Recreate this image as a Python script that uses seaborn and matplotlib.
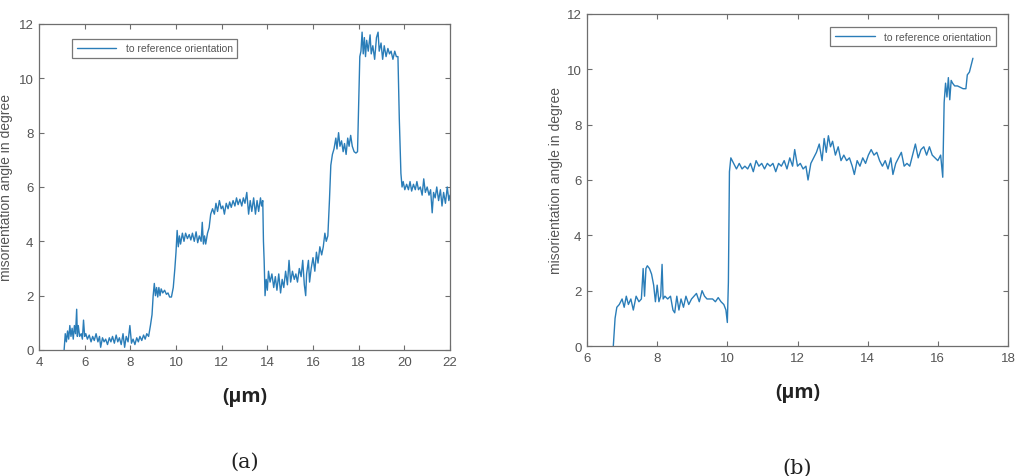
import matplotlib
matplotlib.use("Agg")
import matplotlib.pyplot as plt
import seaborn as sns
import pandas as pd

# ---------------- data ----------------
series_label = "to reference orientation"
x_label = "(μm)"
y_label = "misorientation angle in degree"
panel_a_xticks = [4, 6, 8, 10, 12, 14, 16, 18, 20, 22]
panel_b_xticks = [6, 8, 10, 12, 14, 16, 18]
y_ticks = [0, 2, 4, 6, 8, 10, 12]

a_x = [5.10, 5.15, 5.20, 5.25, 5.30, 5.35, 5.40, 5.45, 5.50, 5.55, 5.60, 5.65, 5.68, 5.72, 5.78,
       5.85, 5.90, 5.95, 6.00, 6.05, 6.12, 6.20, 6.28, 6.35, 6.42, 6.50, 6.58, 6.65, 6.70, 6.78,
       6.85, 6.92, 7.00, 7.08, 7.15, 7.22, 7.30, 7.38, 7.45, 7.52, 7.60, 7.68, 7.75, 7.82, 7.90,
       7.98, 8.05, 8.12, 8.20, 8.28, 8.35, 8.42, 8.50, 8.58, 8.65, 8.72, 8.80, 8.88, 8.95, 9.00,
       9.05, 9.10, 9.15, 9.20, 9.25, 9.30, 9.35, 9.42, 9.50, 9.58, 9.65, 9.72, 9.80, 9.88, 9.95,
       10.00, 10.05, 10.10, 10.15, 10.20, 10.28, 10.35, 10.42, 10.50, 10.58, 10.65, 10.72, 10.80,
       10.88, 10.95, 11.02, 11.10, 11.15, 11.20, 11.25, 11.30, 11.38, 11.45, 11.52, 11.60, 11.68,
       11.75, 11.82, 11.90, 11.98, 12.05, 12.12, 12.20, 12.28, 12.35, 12.42, 12.50, 12.58, 12.65,
       12.72, 12.80, 12.88, 12.95, 13.02, 13.10, 13.18, 13.25, 13.32, 13.40, 13.48, 13.55, 13.62,
       13.70, 13.75, 13.80, 13.83, 13.86, 13.90, 13.95, 14.00, 14.05, 14.12, 14.20, 14.28, 14.35,
       14.42, 14.50, 14.58, 14.65, 14.72, 14.80, 14.88, 14.95, 15.02, 15.10, 15.18, 15.25, 15.32,
       15.40, 15.48, 15.55, 15.62, 15.68, 15.72, 15.80, 15.85, 15.92, 16.00, 16.08, 16.15, 16.22,
       16.30, 16.38, 16.45, 16.52, 16.58, 16.65, 16.72, 16.78, 16.85, 16.92, 17.00, 17.05, 17.12,
       17.18, 17.25, 17.32, 17.38, 17.45, 17.52, 17.58, 17.65, 17.72, 17.80, 17.88, 17.95, 18.00,
       18.05, 18.10, 18.15, 18.20, 18.25, 18.30, 18.35, 18.42, 18.50, 18.55, 18.62, 18.70, 18.78,
       18.85, 18.90, 18.98, 19.05, 19.12, 19.20, 19.28, 19.35, 19.42, 19.50, 19.58, 19.65, 19.72,
       19.78, 19.85, 19.90, 19.95, 20.02, 20.10, 20.18, 20.25, 20.32, 20.40, 20.48, 20.55, 20.62,
       20.70, 20.78, 20.85, 20.92, 21.00, 21.08, 21.15, 21.22, 21.28, 21.35, 21.42, 21.50, 21.58,
       21.65, 21.72, 21.80, 21.88, 21.95, 22.00]
a_y = [0.0, 0.6, 0.3, 0.7, 0.4, 0.9, 0.5, 0.8, 0.4, 0.9, 0.6, 1.5, 0.5, 0.9, 0.5,
       0.6, 0.4, 1.1, 0.5, 0.6, 0.4, 0.55, 0.3, 0.5, 0.35, 0.6, 0.3, 0.5, 0.1, 0.45,
       0.3, 0.4, 0.2, 0.45, 0.3, 0.5, 0.25, 0.55, 0.3, 0.45, 0.2, 0.6, 0.1, 0.5, 0.3,
       0.9, 0.25, 0.4, 0.2, 0.45, 0.3, 0.5, 0.35, 0.55, 0.4, 0.6, 0.5, 0.9, 1.3, 2.0,
       2.45, 2.0, 2.3, 1.95, 2.3, 2.0, 2.25, 2.1, 2.2, 2.05, 2.1, 1.95, 1.95, 2.3, 3.0,
       3.6, 4.4, 3.8, 4.2, 3.9, 4.3, 4.0, 4.3, 4.1, 4.25, 4.05, 4.3,
       4.0, 4.35, 3.95, 4.2, 4.0, 4.7, 3.9, 4.2, 3.9, 4.3, 4.5, 5.0, 5.2, 5.0,
       5.4, 5.1, 5.5, 5.2, 5.3, 5.0, 5.4, 5.2, 5.45, 5.25, 5.5, 5.3, 5.6,
       5.35, 5.55, 5.3, 5.6, 5.4, 5.8, 5.0, 5.5, 5.1, 5.6, 5.0, 5.5, 5.1,
       5.6, 5.3, 5.5, 4.0, 3.3, 2.0, 2.6, 2.2, 2.9, 2.5, 2.8, 2.3, 2.7,
       2.2, 2.8, 2.1, 2.6, 2.3, 2.9, 2.4, 3.3, 2.5, 2.9, 2.6, 2.8, 2.5,
       3.0, 2.7, 3.3, 2.4, 2.0, 2.8, 3.3, 2.5, 3.0, 3.4, 2.9, 3.6, 3.2,
       3.8, 3.5, 3.8, 4.3, 4.0, 4.2, 5.5, 6.8, 7.2, 7.4, 7.8, 7.4, 8.0,
       7.5, 7.7, 7.3, 7.6, 7.2, 7.8, 7.5, 7.9, 7.5, 7.3, 7.25, 7.3, 9.0,
       10.8, 11.0, 11.7, 10.9, 11.5, 10.8, 11.4, 11.0, 11.6, 10.9, 11.2, 10.7, 11.5,
       11.7, 11.0, 11.3, 10.7, 11.2, 10.8, 11.1, 10.9, 11.0, 10.7, 11.0, 10.8, 10.8,
       8.5, 6.5, 6.0, 6.2, 5.9, 6.1, 5.9, 6.2, 5.85, 6.1, 5.9, 6.2, 5.9,
       6.0, 5.7, 6.3, 5.8, 6.0, 5.7, 5.9, 5.05, 5.8, 5.6, 6.0, 5.5, 5.9,
       5.3, 5.8, 5.4, 6.0, 5.5, 5.7]

b_x = [6.75, 6.80, 6.85, 6.92, 7.00, 7.06, 7.12, 7.18, 7.25, 7.32, 7.40, 7.48, 7.55, 7.60,
       7.64, 7.68, 7.72, 7.78, 7.84, 7.90, 7.95, 8.00, 8.05, 8.10, 8.14, 8.17, 8.22, 8.30,
       8.38, 8.45, 8.50, 8.56, 8.62, 8.68, 8.75, 8.82, 8.90, 8.98, 9.05, 9.12, 9.20, 9.28,
       9.35, 9.42, 9.50, 9.58, 9.66, 9.74, 9.82, 9.90, 9.96, 10.00, 10.03, 10.06, 10.10,
       10.18, 10.26, 10.34, 10.42, 10.50, 10.58, 10.66, 10.74, 10.82, 10.90, 10.98, 11.06,
       11.14, 11.22, 11.30, 11.38, 11.46, 11.54, 11.62, 11.70, 11.78, 11.86, 11.92, 12.00,
       12.08, 12.16, 12.24, 12.30, 12.38, 12.46, 12.54, 12.62, 12.70, 12.76, 12.82, 12.88,
       12.94, 13.00, 13.08, 13.16, 13.24, 13.32, 13.40, 13.48, 13.56, 13.62, 13.70, 13.78,
       13.86, 13.94, 14.02, 14.10, 14.18, 14.26, 14.34, 14.42, 14.50, 14.58, 14.66, 14.72,
       14.80, 14.88, 14.96, 15.04, 15.12, 15.20, 15.28, 15.36, 15.44, 15.52, 15.60, 15.68,
       15.76, 15.84, 15.92, 16.00, 16.08, 16.14, 16.18, 16.22, 16.26, 16.30, 16.34, 16.38,
       16.42, 16.48, 16.56, 16.64, 16.72, 16.80, 16.84, 16.90, 16.96, 17.00]
b_y = [0.0, 1.0, 1.4, 1.5, 1.7, 1.4, 1.8, 1.5, 1.7, 1.3, 1.8, 1.6, 1.7, 2.8,
       1.8, 2.8, 2.9, 2.8, 2.6, 2.2, 1.6, 2.2, 1.6, 1.8, 2.95, 1.7, 1.8, 1.7,
       1.8, 1.3, 1.2, 1.8, 1.3, 1.7, 1.4, 1.8, 1.5, 1.7, 1.8, 1.9, 1.6, 2.0,
       1.8, 1.7, 1.7, 1.7, 1.6, 1.75, 1.6, 1.5, 1.3, 0.85, 2.3, 6.3, 6.8,
       6.6, 6.4, 6.6, 6.4, 6.5, 6.4, 6.6, 6.3, 6.7, 6.5, 6.6, 6.4,
       6.6, 6.5, 6.6, 6.3, 6.6, 6.5, 6.7, 6.4, 6.8, 6.5, 7.1, 6.5,
       6.6, 6.4, 6.5, 6.0, 6.6, 6.8, 7.0, 7.3, 6.7, 7.5, 7.0, 7.6,
       7.2, 7.4, 6.9, 7.2, 6.7, 6.9, 6.7, 6.8, 6.5, 6.2, 6.7, 6.5,
       6.8, 6.6, 6.9, 7.1, 6.9, 7.0, 6.7, 6.5, 6.7, 6.4, 6.8, 6.2,
       6.6, 6.8, 7.0, 6.5, 6.6, 6.5, 6.9, 7.3, 6.8, 7.1, 7.2, 6.9,
       7.2, 6.9, 6.8, 6.7, 6.9, 6.1, 8.8, 9.5, 9.0, 9.7, 8.9, 9.6,
       9.5, 9.4, 9.4, 9.35, 9.3, 9.3, 9.8, 9.9, 10.2, 10.4]

# ---------------- style ----------------
sns.set_theme(style="white")
plt.rcParams["font.family"] = ["Liberation Sans", "DejaVu Sans"]

line_color = "#2a7db8"
axis_color = "#6e6e6e"
text_color = "#555555"

fig = plt.figure(figsize=(10.21, 4.77), dpi=100)
ax_a = fig.add_axes([39 / 1021, 1 - 351 / 477, 411 / 1021, 326 / 477])
ax_b = fig.add_axes([587 / 1021, 1 - 347 / 477, 421 / 1021, 332 / 477])

df_a = pd.DataFrame({"x": a_x, "y": a_y, "s": series_label})
df_b = pd.DataFrame({"x": b_x, "y": b_y, "s": series_label})

for ax, df, xticks, leg_anchor, leg_loc, xl_y, yl_x in [
    (ax_a, df_a, panel_a_xticks, (0.08, 0.955), "upper left", -46 / 326, -0.063),
    (ax_b, df_b, panel_b_xticks, (0.971, 0.961), "upper right", -46 / 332, -0.058),
]:
    sns.lineplot(data=df, x="x", y="y", hue="s", palette=[line_color],
                 estimator=None, sort=False, linewidth=1.0, ax=ax)
    ax.set_xlim(xticks[0], xticks[-1])
    ax.set_ylim(0, 12)
    ax.set_xticks(xticks)
    ax.set_yticks(y_ticks)
    ax.tick_params(direction="in", length=3.5, width=0.8, colors=axis_color,
                   labelcolor=text_color, labelsize=9.5, top=True, right=True,
                   bottom=True, left=True, pad=4)
    for sp in ax.spines.values():
        sp.set_visible(True)
        sp.set_color(axis_color)
        sp.set_linewidth(0.9)
    ax.set_ylabel(y_label, fontsize=10, color=text_color)
    ax.yaxis.set_label_coords(yl_x, 0.503)
    ax.set_xlabel(x_label, fontsize=14, fontweight="bold", color="#222222",
                  family=["Open Sans", "DejaVu Sans"])
    ax.xaxis.label.set_va("center")
    ax.xaxis.set_label_coords(0.5, xl_y)
    leg = ax.legend(loc=leg_loc, bbox_to_anchor=leg_anchor, borderaxespad=0,
                    fontsize=7.5, frameon=True, fancybox=False, handlelength=3.8,
                    borderpad=0.45, handletextpad=0.9, labelcolor=text_color)
    leg.get_frame().set_edgecolor("#555555")
    leg.get_frame().set_linewidth(0.9)

fig.text(245 / 1021, 1 - 462 / 477, "(a)", ha="center", va="center", fontsize=15,
         family=["DejaVu Serif"], color="#222222")
fig.text(797 / 1021, 1 - 468 / 477, "(b)", ha="center", va="center", fontsize=15,
         family=["DejaVu Serif"], color="#222222")

fig.savefig("out.png", dpi=100)
